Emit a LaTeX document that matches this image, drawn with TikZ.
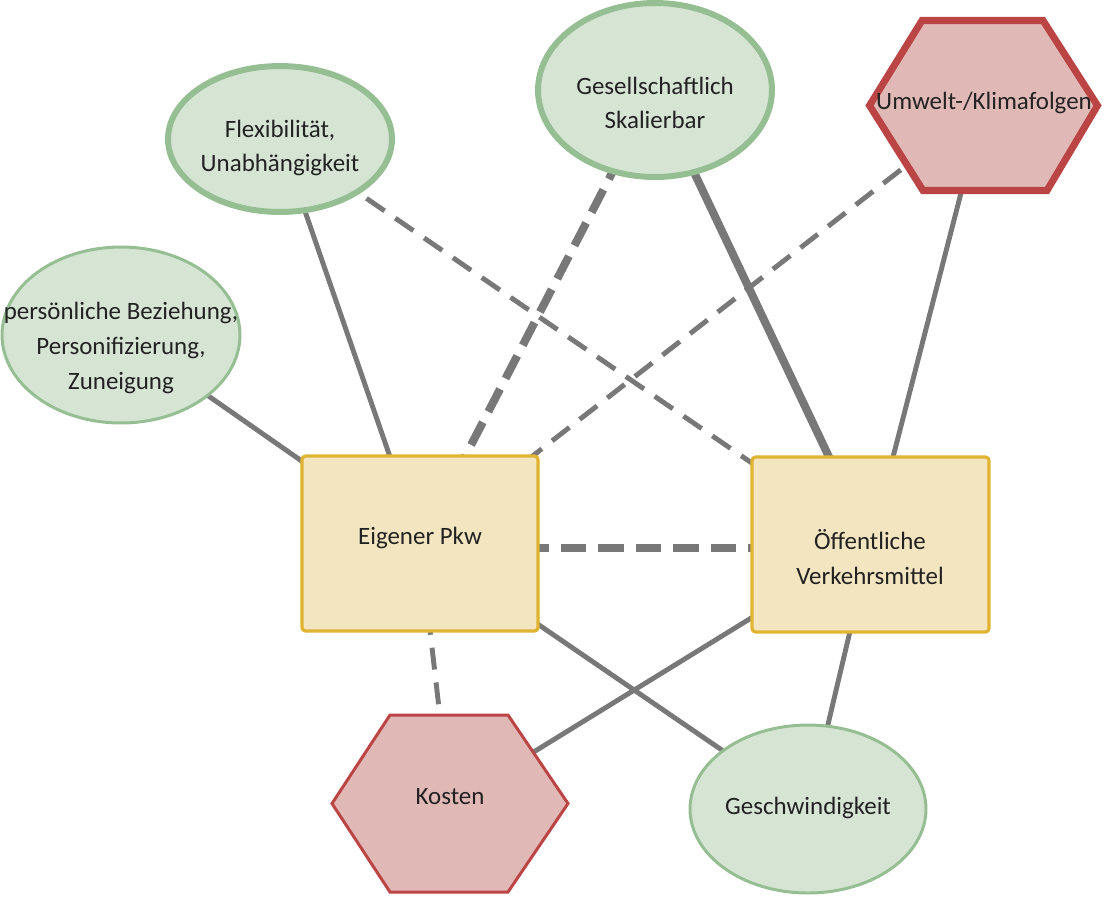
\documentclass[tikz,border=0pt]{standalone}
\usepackage{fontspec}
\setmainfont{Carlito}
\usetikzlibrary{shapes.geometric,calc,backgrounds}
\definecolor{gfill}{HTML}{D6E4D4}
\definecolor{gdraw}{HTML}{95BE92}
\definecolor{rfill}{HTML}{E0B9B6}
\definecolor{rdraw}{HTML}{BB4444}
\definecolor{yfill}{HTML}{F2E5C0}
\definecolor{ydraw}{HTML}{E0B432}
\definecolor{edgec}{HTML}{787878}
\definecolor{txt}{HTML}{222222}
\begin{document}
\begin{tikzpicture}[x=0.02cm,y=-0.02cm,
  lbl/.style={font=\fontsize{14.2}{19.8}\selectfont, text=txt, align=center, inner sep=0},
  ell/.style={ellipse, draw=gdraw, fill=gfill, inner sep=0, line width=1.7pt},
  ellthick/.style={ell, line width=3.4pt},
  boxn/.style={rectangle, rounded corners=2pt, draw=ydraw, fill=yfill, line width=1.8pt, minimum width=4.72cm, minimum height=3.5cm, inner sep=0},
  hexk/.style={draw=rdraw, fill=rfill, line width=1.7pt},
  hexu/.style={draw=rdraw, fill=rfill, line width=4pt},
  edge/.style={draw=edgec, line width=2.8pt},
  edgethick/.style={draw=edgec, line width=4.6pt},
  edgedash/.style={edge, dash pattern=on 12.5pt off 7.4pt},
  edgedashthick/.style={edgethick, dash pattern=on 14.5pt off 6.8pt}
]
\useasboundingbox (0,0) rectangle (1104,904);

% shapes
\node[ellthick, minimum width=4.48cm, minimum height=2.92cm] (flex) at (280,139) {};
\node[ellthick, minimum width=4.68cm, minimum height=3.48cm] (gesell) at (655,90) {};
\node[ell, minimum width=4.76cm, minimum height=3.52cm] (pers) at (121,335) {};
\node[ell, minimum width=4.72cm, minimum height=3.36cm] (geschw) at (808,809) {};
\node[boxn] (pkw) at (420,543.5) {};
\node[boxn, minimum width=4.74cm] (oeff) at (870.5,544.5) {};
\node[coordinate] (kosten) at (450,803.5) {};
\node[coordinate] (umwelt) at (983.5,105.5) {};

\draw[hexk] ($(kosten)+(-118,0)$) -- ($(kosten)+(-60,-88.5)$) -- ($(kosten)+(58,-88.5)$) -- ($(kosten)+(118,0)$) -- ($(kosten)+(58,88.5)$) -- ($(kosten)+(-60,88.5)$) -- cycle;
\draw[hexu] ($(umwelt)+(-114,0)$) -- ($(umwelt)+(-61.5,-85)$) -- ($(umwelt)+(59.5,-85)$) -- ($(umwelt)+(114,0)$) -- ($(umwelt)+(63.5,85)$) -- ($(umwelt)+(-60.5,85)$) -- cycle;

% labels
\node[lbl] (flext) at (280,148) {Flexibilität,\\Unabhängigkeit};
\node[lbl] (gesellt) at (655,103) {Gesellschaftlich\\Skalierbar};
\node[lbl] (perst) at (121,348) {persönliche Beziehung,\\Personifizierung,\\Zuneigung};
\node[lbl] (geschwt) at (808,808) {Geschwindigkeit};
\node[lbl] (pkwt) at (420,538) {Eigener Pkw};
\node[lbl] (oefft) at (870,557) {Öffentliche\\Verkehrsmittel};
\node[lbl] (kostent) at (450,797) {Kosten};
\node[lbl] (umweltt) at (984,103) {Umwelt-/Klimafolgen};

% connectors
\begin{scope}[on background layer]
\draw[edge] (flex.center) -- (pkw.center);
\draw[edgedash] (flex.center) -- (oeff.center);
\draw[edgedashthick] (gesell.center) -- (pkw.center);
\draw[edgethick] (gesell.center) -- (oeff.center);
\draw[edgedash] (umwelt) -- (pkw.center);
\draw[edge] (umwelt) -- (oeff.center);
\draw[edge] (pers.center) -- (pkw.center);
\draw[edgedashthick, dash phase=5pt] ($(pkw.center)+(0,4.5)$) -- ($(oeff.center)+(0,3.5)$);
\draw[edgedash] (pkw.center) -- (kosten);
\draw[edge] (pkw.center) -- (geschw.center);
\draw[edge] (oeff.center) -- (kosten);
\draw[edge] (oeff.center) -- (geschw.center);
\end{scope}
\end{tikzpicture}
\end{document}
